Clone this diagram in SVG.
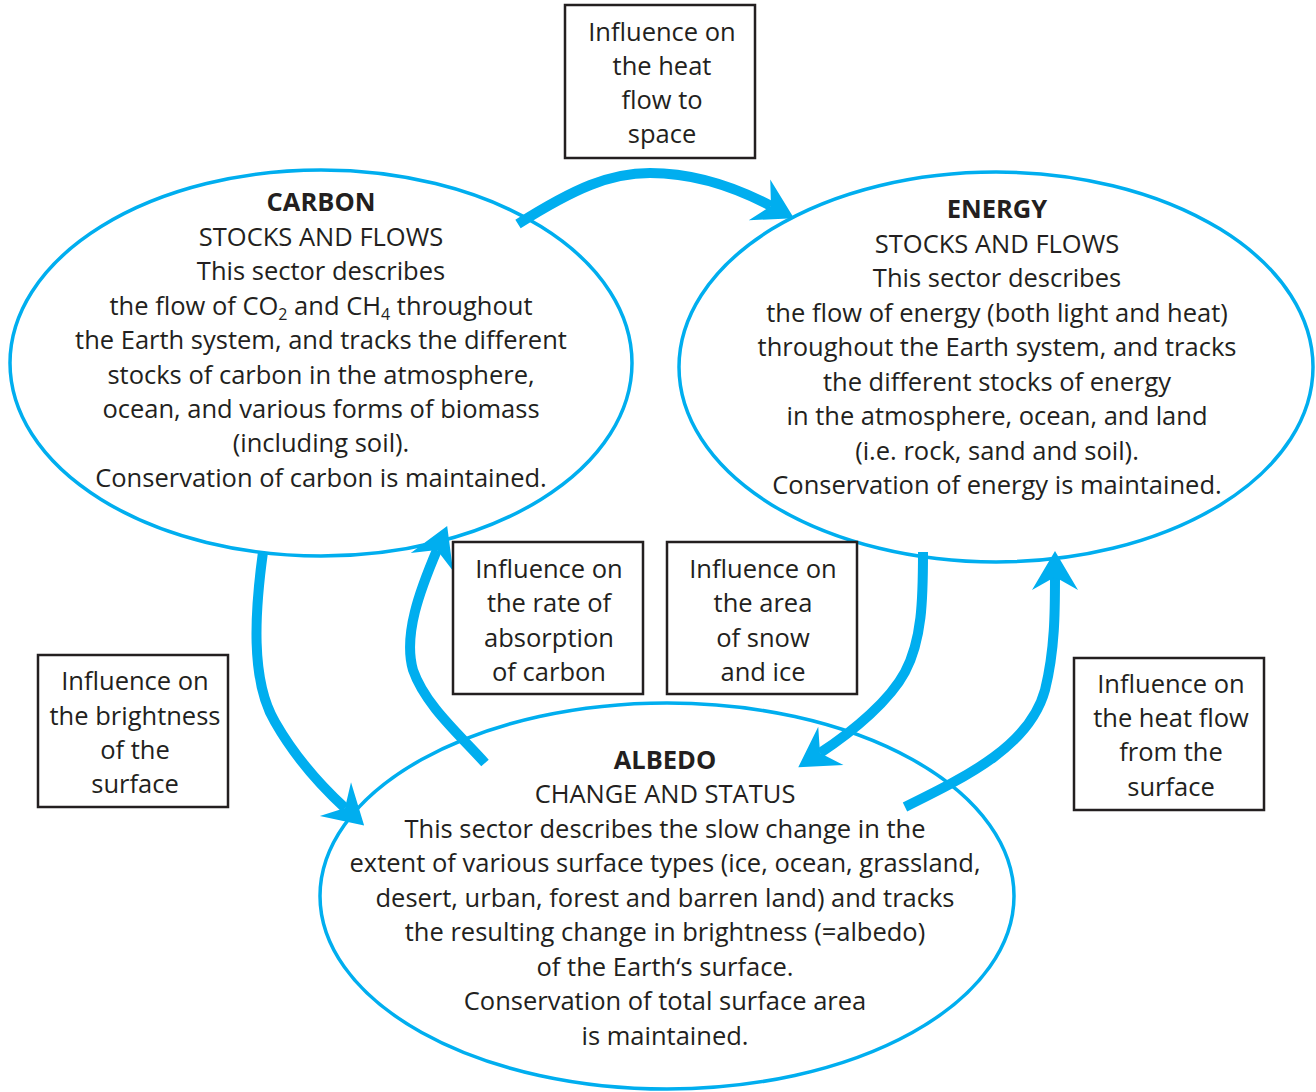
<svg xmlns="http://www.w3.org/2000/svg" width="1316" height="1092" viewBox="0 0 1316 1092">
<style>
text{font-family:"Open Sans","Noto Sans","DejaVu Sans",sans-serif;font-size:25.5px;fill:#231f20;text-anchor:middle}
.h{font-weight:bold}
.sector{fill:none;stroke:#00aeef;stroke-width:3.5}
.box{fill:#fff;stroke:#231f20;stroke-width:2.5}
.flow{fill:none;stroke:#00aeef;stroke-width:10;marker-end:url(#head)}
.sub{font-size:16px}
</style>
<defs>
<marker id="head" markerUnits="userSpaceOnUse" markerWidth="60" markerHeight="60" refX="0" refY="0" orient="auto" overflow="visible">
<path d="M26,0 L-13,-23 L0,0 L-13,23 Z" fill="#00aeef"/>
</marker>
</defs>
<rect width="1316" height="1092" fill="#fff"/>
<g id="carbon">
<ellipse class="sector" cx="321" cy="363" rx="311" ry="193"/>
<text x="321" y="211" class="h">CARBON</text>
<text x="321" y="246">STOCKS AND FLOWS</text>
<text x="321" y="280">This sector describes</text>
<text x="321" y="315">the flow of CO<tspan class="sub" dy="5">2</tspan><tspan dy="-5"> and CH</tspan><tspan class="sub" dy="5">4</tspan><tspan dy="-5"> throughout</tspan></text>
<text x="321" y="349">the Earth system, and tracks the different</text>
<text x="321" y="384">stocks of carbon in the atmosphere,</text>
<text x="321" y="418">ocean, and various forms of biomass</text>
<text x="321" y="452">(including soil).</text>
<text x="321" y="487">Conservation of carbon is maintained.</text>
</g>
<g id="energy">
<ellipse class="sector" cx="996" cy="367" rx="317" ry="195"/>
<text x="997" y="218" class="h">ENERGY</text>
<text x="997" y="253">STOCKS AND FLOWS</text>
<text x="997" y="287">This sector describes</text>
<text x="997" y="322">the flow of energy (both light and heat)</text>
<text x="997" y="356">throughout the Earth system, and tracks</text>
<text x="997" y="391">the different stocks of energy</text>
<text x="997" y="425">in the atmosphere, ocean, and land</text>
<text x="997" y="460">(i.e. rock, sand and soil).</text>
<text x="997" y="494">Conservation of energy is maintained.</text>
</g>
<g id="albedo">
<ellipse class="sector" cx="667" cy="896" rx="347" ry="193"/>
<text x="665" y="769" class="h">ALBEDO</text>
<text x="665" y="803">CHANGE AND STATUS</text>
<text x="665" y="838">This sector describes the slow change in the</text>
<text x="665" y="872">extent of various surface types (ice, ocean, grassland,</text>
<text x="665" y="907">desert, urban, forest and barren land) and tracks</text>
<text x="665" y="941">the resulting change in brightness (=albedo)</text>
<text x="665" y="976">of the Earth‘s surface.</text>
<text x="665" y="1010">Conservation of total surface area</text>
<text x="665" y="1045">is maintained.</text>
</g>
<g id="connectors">
<path class="flow" d="M518,224 C575,188 610,173 650,173 C695,173 735,187 771,206"/>
<path class="flow" d="M263,552 C255,610 250,680 275,722 C295,757 320,785 345,808"/>
<path class="flow" d="M485,763 C460,735 425,705 413,670 C403,635 420,590 437,550"/>
<path class="flow" d="M923,552 C923,600 922,640 905,672 C890,700 855,730 820,753"/>
<path class="flow" d="M905,807 C970,775 1030,745 1045,690 C1055,650 1055,610 1055,577"/>
</g>
<g id="label-heat-space">
<rect class="box" x="565" y="5" width="190" height="153"/>
<text x="662" y="41">Influence on</text>
<text x="662" y="75">the heat</text>
<text x="662" y="109">flow to</text>
<text x="662" y="143">space</text>
</g>
<g id="label-absorption">
<rect class="box" x="453" y="542" width="190" height="152"/>
<text x="549" y="578">Influence on</text>
<text x="549" y="612">the rate of</text>
<text x="549" y="647">absorption</text>
<text x="549" y="681">of carbon</text>
</g>
<g id="label-snow">
<rect class="box" x="667" y="542" width="190" height="152"/>
<text x="763" y="578">Influence on</text>
<text x="763" y="612">the area</text>
<text x="763" y="647">of snow</text>
<text x="763" y="681">and ice</text>
</g>
<g id="label-brightness">
<rect class="box" x="38" y="655" width="190" height="152"/>
<text x="135" y="690">Influence on</text>
<text x="135" y="725">the brightness</text>
<text x="135" y="759">of the</text>
<text x="135" y="793">surface</text>
</g>
<g id="label-heat-surface">
<rect class="box" x="1074" y="658" width="190" height="152"/>
<text x="1171" y="693">Influence on</text>
<text x="1171" y="727">the heat flow</text>
<text x="1171" y="761">from the</text>
<text x="1171" y="796">surface</text>
</g>
</svg>
